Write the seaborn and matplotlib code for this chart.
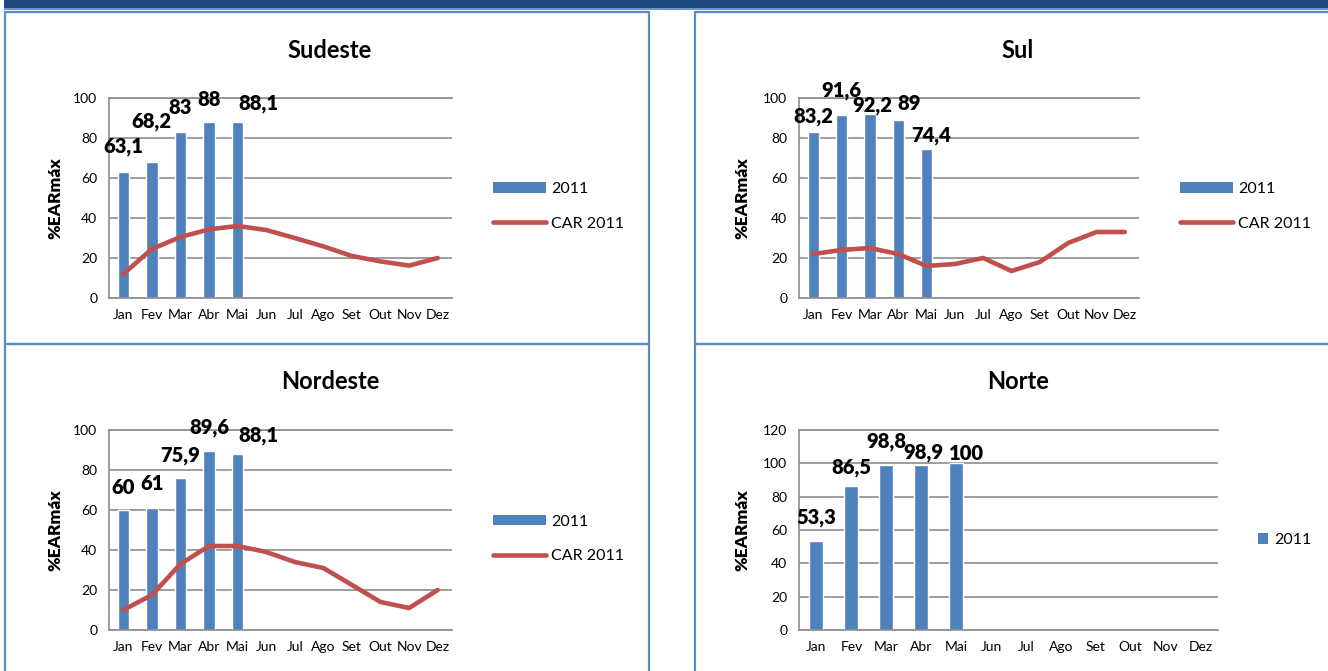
import matplotlib
import matplotlib.pyplot as plt
import numpy as np
import seaborn as sns
from matplotlib.lines import Line2D
from matplotlib.patches import Patch, Rectangle

# Non-interactive backend, we only need the png
matplotlib.use("Agg")

FIG_W, FIG_H = 1328, 671
BLUE = "#4F81BD"
RED = "#C0504D"
GRID = "#8C8C8C"
FRAME = "#5B8BC8"
NAVY = "#1F497D"

# Data
MONTHS = ["Jan", "Fev", "Mar", "Abr", "Mai", "Jun", "Jul", "Ago", "Set", "Out", "Nov", "Dez"]
BAR_MONTHS = ["Jan", "Fev", "Mar", "Abr", "Mai"]

SUDESTE_2011 = [63.1, 68.2, 83, 88, 88.1]
SUDESTE_CAR = [12, 24.5, 30.5, 34.3, 36, 34, 30, 25.8, 21, 18.3, 16.2, 20]

SUL_2011 = [83.2, 91.6, 92.2, 89, 74.4]
SUL_CAR = [22, 24, 25, 22, 16, 17, 20, 13.5, 18, 27.5, 33, 33]

NORDESTE_2011 = [60, 61, 75.9, 89.6, 88.1]
NORDESTE_CAR = [10, 17.5, 33, 42, 42, 39, 34, 31, 22.5, 14, 11, 20]

NORTE_2011 = [53.3, 86.5, 98.8, 98.9, 100]

# Layout of each panel, in pixels of the final image
PANELS = [
    {
        "title": "Sudeste", "bars": SUDESTE_2011, "car": SUDESTE_CAR,
        "box": (109, 98, 452, 298), "title_xy": (330, 50), "ylabel_x": 55,
        "ymax": 100, "legend_xy": (493, 206.5), "frame": (5, 12, 649, 344),
        "label_offsets": [(0, 25), (0, 40), (0, 25), (0, 23), (21, 18)],
    },
    {
        "title": "Sul", "bars": SUL_2011, "car": SUL_CAR,
        "box": (799, 98, 1139, 298), "title_xy": (1018, 50), "ylabel_x": 742,
        "ymax": 100, "legend_xy": (1180, 206.5), "frame": (695, 12, 1332, 344),
        "label_offsets": [(0, 15), (0, 24), (2, 8), (11, 16), (5, 14)],
    },
    {
        "title": "Nordeste", "bars": NORDESTE_2011, "car": NORDESTE_CAR,
        "box": (109, 430, 452, 630), "title_xy": (330, 382), "ylabel_x": 55,
        "ymax": 100, "legend_xy": (493, 539), "frame": (5, 344, 649, 675),
        "label_offsets": [(0, 23), (0, 24), (0, 23), (0, 23), (21, 18)],
    },
    {
        "title": "Norte", "bars": NORTE_2011, "car": None,
        "box": (799, 430, 1218, 630), "title_xy": (1018, 382), "ylabel_x": 742,
        "ymax": 120, "legend_xy": (1258, 540), "frame": (695, 344, 1332, 675),
        "label_offsets": [(0, 23.5), (0, 18), (0, 23.6), (2, 12.5), (10, 10)],
    },
]


def fx(x):
    return x / FIG_W


def fy(y):
    return 1 - y / FIG_H


def axes_rect(x0, y0, x1, y1):
    return [fx(x0), fy(y1), (x1 - x0) / FIG_W, (y1 - y0) / FIG_H]


def draw_frames(fig):
    """Dark header strip and the light blue boxes around each chart."""
    fig.add_artist(Rectangle((fx(4), fy(8)), 1, 8 / FIG_H, transform=fig.transFigure,
                             facecolor=NAVY, edgecolor="none"))
    fig.add_artist(Rectangle((fx(4), fy(9.5)), 1, 1.5 / FIG_H, transform=fig.transFigure,
                             facecolor="#6F95C8", edgecolor="none"))
    for panel in PANELS:
        x0, y0, x1, y1 = panel["frame"]
        fig.add_artist(Rectangle((fx(x0), fy(y1)), (x1 - x0) / FIG_W, (y1 - y0) / FIG_H,
                                 transform=fig.transFigure, facecolor="none",
                                 edgecolor=FRAME, lw=1.6))


def draw_panel(fig, panel):
    ax = fig.add_axes(axes_rect(*panel["box"]))
    positions = np.arange(len(MONTHS))

    sns.barplot(x=BAR_MONTHS, y=panel["bars"], order=MONTHS, color=BLUE,
                saturation=1, width=0.4, errorbar=None, ax=ax, zorder=2)

    handles = [Patch(facecolor=BLUE, edgecolor="none", label="2011")]
    if panel["car"] is not None:
        sns.lineplot(x=positions, y=panel["car"], color=RED, lw=3.3, ax=ax,
                     solid_capstyle="round", zorder=3)
        handles.append(Line2D([], [], color=RED, lw=3.3, solid_capstyle="round",
                              label="CAR 2011"))

    # value labels, nudged like in the original spreadsheet chart
    for i, (val, (dx, dy)) in enumerate(zip(panel["bars"], panel["label_offsets"])):
        ax.annotate(f"{val:g}".replace(".", ","), xy=(i, val), xytext=(dx, dy),
                    textcoords="offset pixels", ha="center", va="center",
                    fontsize=14.5, fontweight="heavy", color="black",
                    annotation_clip=False, zorder=4)

    ymax = panel["ymax"]
    ax.set_xlim(-0.5, len(MONTHS) - 0.5)
    ax.set_ylim(0, ymax)
    ax.set_yticks(np.arange(0, ymax + 1, 20))
    ax.set_xticks(positions)
    ax.set_xticklabels(MONTHS)
    ax.set_xticks(np.arange(-0.5, len(MONTHS), 1), minor=True)
    ax.set_xlabel("")
    ax.set_ylabel("")

    ax.tick_params(axis="x", which="major", length=0, pad=8, labelsize=10,
                   labelcolor="black")
    ax.tick_params(axis="x", which="minor", length=4, width=1, color=GRID, direction="out")
    ax.tick_params(axis="y", length=3.5, width=1, color=GRID, direction="out",
                   pad=5, labelsize=10, labelcolor="black")

    ax.set_axisbelow(True)
    ax.yaxis.grid(True, color=GRID, lw=1.2)
    ax.xaxis.grid(False)
    for side in ("left", "bottom", "top"):
        ax.spines[side].set_color(GRID)
        ax.spines[side].set_linewidth(1.2)
        ax.spines[side].set_visible(True)
    ax.spines["right"].set_visible(False)

    tx, ty = panel["title_xy"]
    fig.text(fx(tx), fy(ty), panel["title"], ha="center", va="center",
             fontsize=17, fontweight="bold", color="black")
    x0, y0, x1, y1 = panel["box"]
    fig.text(fx(panel["ylabel_x"]), fy((y0 + y1) / 2), "%EARmáx", rotation=90,
             ha="center", va="center", fontsize=12.5, fontweight="heavy", color="black")

    lx, ly = panel["legend_xy"]
    if len(handles) > 1:
        hl, hh = 3.3, 0.65
    else:
        hl, hh = 0.65, 0.65
    leg = ax.legend(handles=handles, loc="center left", bbox_to_anchor=(fx(lx), fy(ly)),
                    bbox_transform=fig.transFigure, frameon=False, borderpad=0,
                    borderaxespad=0, handlelength=hl, handleheight=hh,
                    handletextpad=0.35, labelspacing=1.3, fontsize=11.5)
    for text in leg.get_texts():
        text.set_color("black")
    return ax


def main():
    sns.set_theme(style="white")
    plt.rcParams["font.family"] = ["Lato", "DejaVu Sans"]
    plt.rcParams["text.color"] = "black"

    fig = plt.figure(figsize=(FIG_W / 100, FIG_H / 100), dpi=100)
    fig.patch.set_facecolor("white")
    draw_frames(fig)
    for panel in PANELS:
        draw_panel(fig, panel)
    fig.savefig("out.png", dpi=100)
    plt.close(fig)


if __name__ == "__main__":
    main()
